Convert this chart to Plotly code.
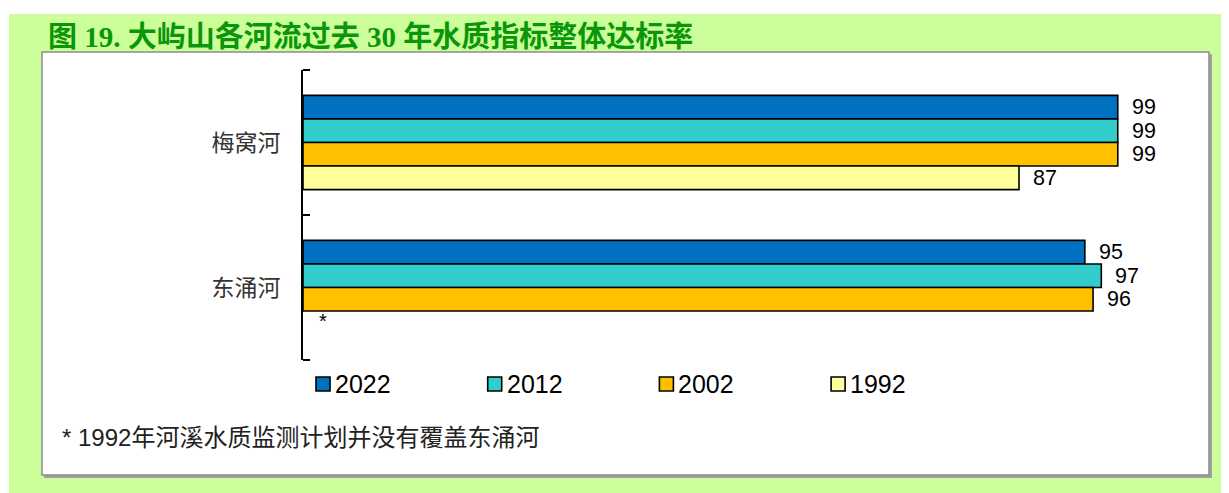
import plotly.graph_objects as go

# ---- data ----
rivers = ["梅窝河", "东涌河"]
years = ["2022", "2012", "2002", "1992"]
vals_2022 = [99, 95]
vals_2012 = [99, 97]
vals_2002 = [99, 96]
vals_1992 = [87, None]
colors = ["#0070C0", "#33CCCC", "#FFC000", "#FFFF99"]
series = [vals_2022, vals_2012, vals_2002, vals_1992]

title_text = "图 19. 大屿山各河流过去 30 年水质指标整体达标率"
footnote = "* 1992年河溪水质监测计划并没有覆盖东涌河"

# page body has an 8px margin; work in page pixels and offset
OFF = 8
W, H = 1229 - OFF, 493 - OFF
L, R, T, B = 303 - OFF, 103, 70 - OFF, 141 - OFF
PW, PH = W - L - R, H - T - B


def px(x):
    return (x - OFF - L) / PW


def py(y):
    return 1 - (y - OFF - T) / PH


BARGAP = 0.35
fig = go.Figure()
for name, vals, col in zip(years, series, colors):
    fig.add_trace(go.Bar(
        y=rivers, x=vals, name=name, orientation="h",
        marker=dict(color=col, line=dict(color="black", width=1.6)),
        showlegend=False, hoverinfo="skip",
    ))

shapes = []
shapes.append(dict(type="rect", xref="paper", yref="paper", layer="below",
                   x0=px(9), x1=px(1235), y0=py(14), y1=py(500),
                   fillcolor="#CCFF99", line=dict(width=0)))
shapes.append(dict(type="rect", xref="paper", yref="paper", layer="below",
                   x0=px(44), x1=px(1212), y0=py(54), y1=py(478),
                   fillcolor="#A0A0A0", line=dict(width=0)))
shapes.append(dict(type="rect", xref="paper", yref="paper", layer="below",
                   x0=px(42), x1=px(1209), y0=py(52), y1=py(475),
                   fillcolor="white", line=dict(color="#8C8C8C", width=1.5)))
# outer boundary ticks of the category axis
for yb in (0, 1):
    shapes.append(dict(type="line", xref="paper", yref="paper",
                       x0=0, x1=px(310), y0=yb, y1=yb,
                       line=dict(color="black", width=2)))

annotations = []
annotations.append(dict(xref="paper", yref="paper", x=px(46), y=py(37),
                        xanchor="left", yanchor="middle", showarrow=False,
                        text="<b>" + title_text + "</b>",
                        font=dict(family="Liberation Serif, Noto Sans CJK SC", size=29, color="#0A960A")))

ngroup = len(years)
bw = (1 - BARGAP) / ngroup
for k, vals in enumerate(series):
    for ci, v in enumerate(vals):
        yk = ci - (1 - BARGAP) / 2 + bw * (k + 0.5)
        if v is None:
            annotations.append(dict(x=0, y=yk, xref="x", yref="y", text="*",
                                    xanchor="center", yanchor="middle", showarrow=False,
                                    xshift=20, yshift=2,
                                    font=dict(family="Liberation Sans", size=20, color="black")))
        else:
            annotations.append(dict(x=v, y=yk, xref="x", yref="y", text=str(v),
                                    xanchor="left", yanchor="middle", showarrow=False,
                                    xshift=12,
                                    font=dict(family="Liberation Sans", size=21.5, color="black")))

for i, (name, col) in enumerate(zip(years, colors)):
    x0 = 316 + 171.7 * i
    shapes.append(dict(type="rect", xref="paper", yref="paper",
                       x0=px(x0), x1=px(x0 + 14), y0=py(391), y1=py(377),
                       fillcolor=col, line=dict(color="black", width=1.6)))
    annotations.append(dict(xref="paper", yref="paper", x=px(x0 + 17), y=py(384.5),
                            xanchor="left", yanchor="middle", showarrow=False, text=name,
                            font=dict(family="Liberation Sans", size=25, color="black")))

annotations.append(dict(xref="paper", yref="paper", x=px(60), y=py(437),
                        xanchor="left", yanchor="middle", showarrow=False, text=footnote,
                        font=dict(family="Liberation Sans, Noto Sans CJK SC", size=24, color="#222222")))

fig.update_layout(
    width=W, height=H,
    margin=dict(l=L, r=R, t=T, b=B, pad=0),
    paper_bgcolor="white", plot_bgcolor="rgba(0,0,0,0)",
    barmode="group", bargap=BARGAP, bargroupgap=0,
    shapes=shapes, annotations=annotations,
    xaxis=dict(range=[0, 100], visible=False, fixedrange=True),
    yaxis=dict(autorange="reversed", showline=True, linecolor="black", linewidth=2,
               ticks="inside", tickson="boundaries", ticklen=7, tickwidth=2, tickcolor="black",
               showgrid=False, zeroline=False, ticklabelstandoff=16,
               tickfont=dict(family="Noto Sans CJK SC", size=23, color="#333333")),
)

fig.write_html("out.html")
